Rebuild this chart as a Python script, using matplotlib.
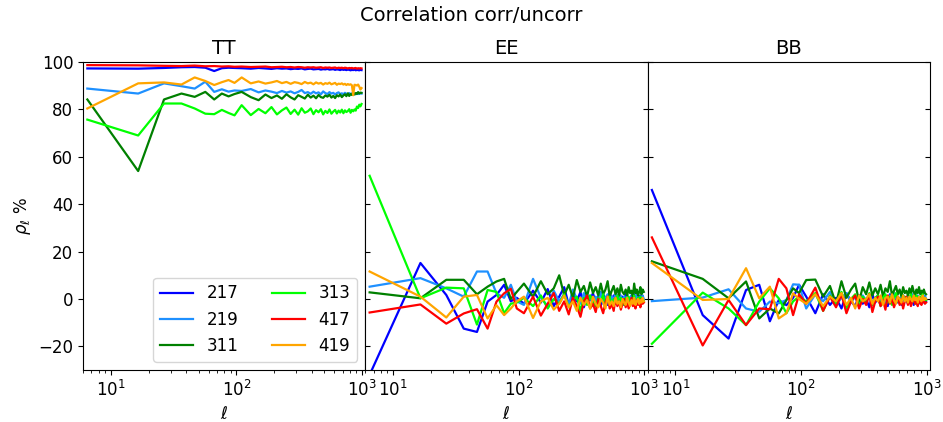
import numpy as np
import matplotlib
matplotlib.use("Agg")
import matplotlib.pyplot as plt

# multipole bin centres: step 10 at low ell, step 20 above 100
ell = np.concatenate([np.arange(6.5, 100, 10), np.arange(110, 1000, 20)])

labels = ["217", "219", "311", "313", "417", "419"]
colors = ["blue", "dodgerblue", "green", "lime", "red", "orange"]

# ---- TT ----
tt_217 = [97.3, 97.2, 97.5, 97.8, 97.9, 97.6, 96.2, 97.4, 97.6, 97.5,
          97.4, 97.2, 97.5, 97.3, 97.1, 97.4, 97.2, 97.3, 97.0, 97.2, 97.1, 97.3, 96.9, 97.1, 97.2,
          96.9, 97.0, 97.1, 96.8, 97.0, 96.9, 97.1, 96.8, 96.9, 97.0, 96.7, 96.9, 96.8, 96.6, 96.9,
          96.7, 96.8, 96.6, 96.8, 96.7, 96.5, 96.7, 96.6, 96.8, 96.5, 96.7, 96.6, 96.5, 96.7, 96.6]
tt_219 = [88.8, 86.7, 91.0, 89.8, 88.8, 91.7, 87.4, 88.5, 87.5, 88.0,
          87.8, 88.6, 87.2, 88.0, 87.5, 86.9, 87.8, 87.1, 87.6, 86.8, 87.4, 88.2, 86.9, 87.3, 86.6,
          87.5, 86.8, 87.2, 86.4, 87.6, 86.9, 86.5, 87.3, 86.7, 87.0, 86.3, 86.9, 87.2, 86.5, 86.8,
          86.4, 87.0, 86.6, 86.2, 86.9, 86.5, 86.8, 86.3, 86.7, 86.4, 86.9, 86.5, 86.6, 86.8, 86.7]
tt_311 = [84.2, 54.0, 84.2, 86.7, 85.3, 87.4, 84.2, 86.7, 85.5, 86.5,
          87.4, 85.2, 83.9, 86.3, 84.8, 85.9, 84.5, 86.4, 85.1, 84.2, 86.0, 85.3, 84.6, 86.2, 85.0,
          85.8, 84.7, 86.1, 85.2, 84.9, 85.9, 85.4, 86.2, 85.0, 85.7, 84.8, 86.0, 85.5, 86.3, 85.2,
          85.9, 86.4, 85.6, 86.8, 85.7, 86.5, 86.1, 87.0, 86.3, 86.9, 86.5, 87.3, 86.7, 87.1, 87.0]
tt_313 = [75.7, 69.0, 82.5, 82.5, 80.4, 78.2, 78.0, 79.8, 78.5, 77.5,
          81.8, 77.6, 80.2, 78.4, 81.0, 77.9, 79.6, 80.8, 78.1, 79.9, 77.8, 80.5, 78.6, 79.2, 80.4,
          78.0, 79.7, 78.8, 80.1, 77.9, 79.4, 78.5, 80.0, 78.2, 79.1, 79.8, 78.3, 79.5, 78.7, 79.9,
          78.4, 79.6, 78.9, 79.3, 80.1, 78.6, 79.8, 79.2, 80.0, 79.5, 81.2, 80.6, 82.0, 81.3, 82.3]
tt_417 = [98.7, 98.6, 98.4, 98.3, 98.5, 98.2, 98.3, 98.1, 98.2, 98.0,
          98.1, 97.9, 98.0, 98.1, 97.8, 97.9, 98.0, 97.8, 97.9, 97.7, 97.9, 97.8, 97.6, 97.8, 97.7,
          97.8, 97.6, 97.7, 97.8, 97.5, 97.7, 97.6, 97.7, 97.5, 97.6, 97.7, 97.4, 97.6, 97.5, 97.6,
          97.4, 97.6, 97.5, 97.3, 97.5, 97.4, 97.5, 97.3, 97.4, 97.5, 97.2, 97.4, 97.3, 97.4, 97.3]
tt_419 = [80.4, 91.0, 91.4, 90.5, 93.5, 92.0, 90.3, 91.5, 92.4, 91.2,
          93.5, 91.0, 91.8, 90.9, 91.4, 92.0, 91.1, 91.6, 90.8, 91.5, 91.2, 90.7, 91.6, 91.0, 91.3,
          90.6, 91.4, 90.9, 91.2, 90.5, 91.1, 90.8, 91.3, 90.6, 90.9, 91.2, 90.4, 90.9, 90.7, 91.0,
          90.5, 90.8, 90.3, 90.7, 90.4, 90.6, 90.2, 86.0, 90.4, 90.3, 90.1, 90.5, 89.6, 88.4, 89.0]

# ---- EE ----
ee_217 = [-32.0, 15.2, 1.7, -12.5, -13.9, -1.1, 1.7, 6.0, -1.0, 0.5,
          -2.0, 3.5, -1.5, 4.2, -3.0, 1.0, 5.0, -2.5, 2.0, -1.0, 3.0, -3.5, 1.5, -0.5, 2.5,
          -2.0, 1.0, -3.0, 2.0, 0.0, -2.5, 3.0, -1.0, 1.5, -2.0, 0.5, 2.5, -1.5, 1.0, -2.5,
          2.0, -1.0, 0.5, -2.0, 1.5, -0.5, 2.0, -1.5, 0.0, 1.0, -2.0, 1.5, -0.5, 0.5, -1.0]
ee_219 = [5.2, 8.8, 4.5, 1.0, 11.6, 11.6, 2.4, 0.5, 6.0, -1.0,
          -2.5, 8.5, 0.5, -3.0, 3.5, -1.0, 2.0, -2.5, 4.0, 0.0, -2.0, 2.5, -1.0, 1.5, -3.0,
          1.0, -1.5, 3.0, -2.0, 0.5, 2.0, -2.5, 1.0, -0.5, 2.5, -1.5, 0.0, 1.5, -2.0, 1.0,
          -1.0, 2.0, -1.5, 0.5, 1.5, -2.0, 1.0, -0.5, 2.0, -1.5, 0.5, 1.0, -1.0, 1.5, 0.0]
ee_311 = [2.8, 0.3, 8.1, 8.1, 2.0, 5.2, 7.4, 8.5, 0.0, 3.0,
          6.5, 1.0, 7.5, 2.0, 4.5, 10.0, 1.5, 6.0, 0.5, 8.0, 3.0, 5.5, 1.0, 7.0, 2.5,
          5.0, 1.5, 6.5, 2.0, 4.0, 7.5, 1.0, 3.5, 5.5, 2.0, 4.5, 1.5, 6.0, 3.0, 2.0,
          4.0, 1.5, 5.0, 2.5, 3.5, 1.0, 6.5, 2.5, 4.0, 1.5, 3.0, 5.0, 2.0, 4.0, 3.0]
ee_313 = [52.0, 0.3, 4.8, 4.5, -10.8, 3.8, 3.0, -6.0, -2.0, -1.5,
          0.5, -3.0, 1.5, -4.0, 0.0, -2.0, 2.0, -3.5, -0.5, 1.0, -5.0, 0.5, -2.5, 1.5, -1.5,
          -3.0, 0.5, -1.0, 2.0, -2.5, -0.5, 1.0, -3.0, 0.0, -1.5, 1.5, -2.0, 0.5, -1.0, -2.5,
          0.5, -1.5, 1.0, -2.0, 0.0, -1.0, 1.5, -2.5, -0.5, 0.5, -1.5, 1.0, -2.0, 0.0, -1.0]
ee_417 = [-5.7, -2.3, -10.4, -6.1, -4.3, -12.5, -1.1, 2.4, 4.3, -4.0,
          -6.0, 1.0, -7.0, -2.0, 2.5, -5.0, -1.0, -6.5, 0.5, -3.0, -7.5, -1.0, 1.5, -4.0, -2.0,
          -5.5, 0.0, -3.0, -6.0, -1.5, 1.0, -4.0, -2.0, -5.0, 0.5, -3.0, -1.0, -4.5, -2.0, 0.0,
          -3.5, -1.0, -4.0, -2.0, 0.5, -3.0, -1.5, -4.0, -0.5, -2.5, -1.0, -3.5, 0.0, -2.0, -1.5]
ee_419 = [11.6, 1.0, -7.8, 1.0, 1.7, -8.2, -2.6, -6.8, -4.0, -1.0,
          1.0, -8.0, -1.0, 0.5, -4.5, -2.0, 1.5, -3.5, -1.0, -5.0, 0.5, -2.5, -0.5, -4.0, 1.0,
          -2.0, -3.5, 0.0, -1.5, -4.0, 1.0, -2.5, -1.0, -3.0, 0.5, -2.0, -1.0, -3.5, 0.0, -1.5,
          -2.5, 0.5, -1.5, -3.0, -0.5, -2.0, 0.5, -2.5, -1.0, 0.0, -2.0, -0.5, -1.5, 0.5, -1.0]

# ---- BB ----
bb_217 = [46.0, -6.8, -16.7, 3.8, 6.0, -9.4, -0.4, -2.6, 0.5, 6.0,
          1.0, -6.0, 2.0, -2.5, 0.5, -4.0, 2.5, -1.0, -3.0, 1.5, -2.0, 0.0, -3.5, 2.0, -1.5,
          0.5, -2.5, 1.5, -1.0, -3.0, 2.0, -0.5, -2.0, 1.0, -1.5, 0.5, -2.5, 1.5, -1.0, 0.0,
          -2.0, 1.0, -1.0, 0.5, -2.5, 1.5, -0.5, -1.5, 1.0, -2.0, 0.0, 1.0, -1.5, 0.5, -1.0]
bb_219 = [-0.9, 0.6, 4.1, -4.0, -5.4, -1.1, -1.8, -0.4, 6.2, 6.0,
          -4.0, 2.0, -1.0, 3.0, -2.5, 0.5, 2.5, -1.5, 1.0, -3.0, 1.5, -0.5, 2.0, -2.0, 0.5,
          1.5, -1.0, 2.0, -2.0, 0.0, 1.5, -1.5, 2.5, -0.5, 1.0, -2.0, 0.5, 1.5, -1.0, 0.0,
          1.0, -1.5, 0.5, 2.0, -1.0, 0.5, -2.0, 1.5, 0.0, -1.0, 1.0, 0.5, -0.5, 1.5, 0.0]
bb_311 = [15.9, 8.5, 0.3, 7.4, -8.2, -4.0, -6.1, -0.5, 4.5, 2.5,
          8.0, 8.2, 1.0, 5.5, -2.0, 7.5, 0.5, 4.0, 6.5, -1.0, 5.0, 2.0, 7.0, 1.5, 4.5,
          2.0, 6.0, 1.0, 4.5, 3.0, 7.5, 1.5, 3.5, 5.5, 2.0, 4.0, 1.0, 5.0, 2.5, 3.5,
          1.5, 4.5, 2.0, 5.5, 3.0, 1.5, 4.0, 2.5, 5.0, 2.0, 3.5, 1.0, 4.0, 2.5, 2.0]
bb_313 = [-18.9, 2.7, -4.0, -11.0, -1.1, 4.5, 0.3, -6.0, -1.0, 1.0,
          -1.0, 2.5, -5.0, 1.5, -2.0, 3.0, -4.0, 0.0, 2.0, -3.0, 1.0, -1.5, 2.5, -2.5, 0.5,
          1.5, -3.0, 0.5, 2.0, -1.5, 1.0, -2.5, 0.5, 2.5, -1.0, 0.0, -2.0, 1.5, -0.5, 1.0,
          -1.5, 0.5, 2.0, -1.0, 0.5, -2.0, 1.5, 0.0, -1.5, 1.0, -0.5, 2.0, -1.0, 0.5, -0.5]
bb_417 = [26.0, -19.6, -0.4, -11.0, -4.0, -4.3, 8.5, 4.5, -6.8, 2.0,
          -2.0, 4.8, -5.0, 1.0, -3.5, 2.0, -6.0, -1.0, 1.5, -4.0, 0.0, -2.5, 2.0, -5.5, -1.0,
          1.0, -3.0, -0.5, -4.5, 1.5, -2.0, 0.5, -3.5, -1.0, 1.0, -2.5, 0.0, -4.0, -1.0, 1.0,
          -2.5, 0.0, -3.0, -1.0, 1.0, -2.0, -0.5, -3.0, 0.5, -1.5, -2.5, 0.0, -1.0, -2.0, -1.5]
bb_419 = [15.2, -0.4, 0.0, 13.0, 0.3, 5.2, -8.2, -6.0, 2.4, 0.0,
          -2.0, 2.0, -3.0, 1.0, -1.0, 2.5, -2.5, 0.5, -4.0, 1.5, -1.0, 0.0, 2.0, -2.0, 0.5,
          -1.0, 1.5, -2.5, 0.5, 1.0, -1.5, 2.0, -0.5, -2.0, 1.0, 0.0, -1.5, 1.5, -1.0, 0.5,
          -1.5, 1.0, 0.0, -1.0, 1.5, -0.5, 0.5, -1.5, 1.0, 0.0, -1.0, 1.5, -0.5, 0.5, 0.0]

panels = {
    "TT": [tt_217, tt_219, tt_311, tt_313, tt_417, tt_419],
    "EE": [ee_217, ee_219, ee_311, ee_313, ee_417, ee_419],
    "BB": [bb_217, bb_219, bb_311, bb_313, bb_417, bb_419],
}

fig, axes = plt.subplots(1, 3, figsize=(9.43, 4.22), dpi=100, sharey=True)
fig.subplots_adjust(left=0.088, right=0.986, top=0.853, bottom=0.123, wspace=0)

for ax, (name, series) in zip(axes, panels.items()):
    for vals, lab, col in zip(series, labels, colors):
        ax.plot(ell, vals, color=col, lw=1.6, label=lab)
    ax.set_xscale("log")
    ax.set_xlim(6.0, 1060)
    ax.set_title(name, fontsize=14)
    ax.set_xlabel(r"$\ell$", fontsize=12)
    ax.tick_params(labelsize=12)

axes[0].set_ylim(-30, 100)
axes[0].set_ylabel(r"$\rho_\ell$ %", fontsize=12)
for ax in axes[1:]:
    ax.tick_params(axis="y", direction="in", left=True, right=True)

axes[0].legend(loc="lower right", ncol=2, fontsize=12)
fig.suptitle("Correlation corr/uncorr", fontsize=14, y=0.985)

fig.savefig("out.png", dpi=100)
